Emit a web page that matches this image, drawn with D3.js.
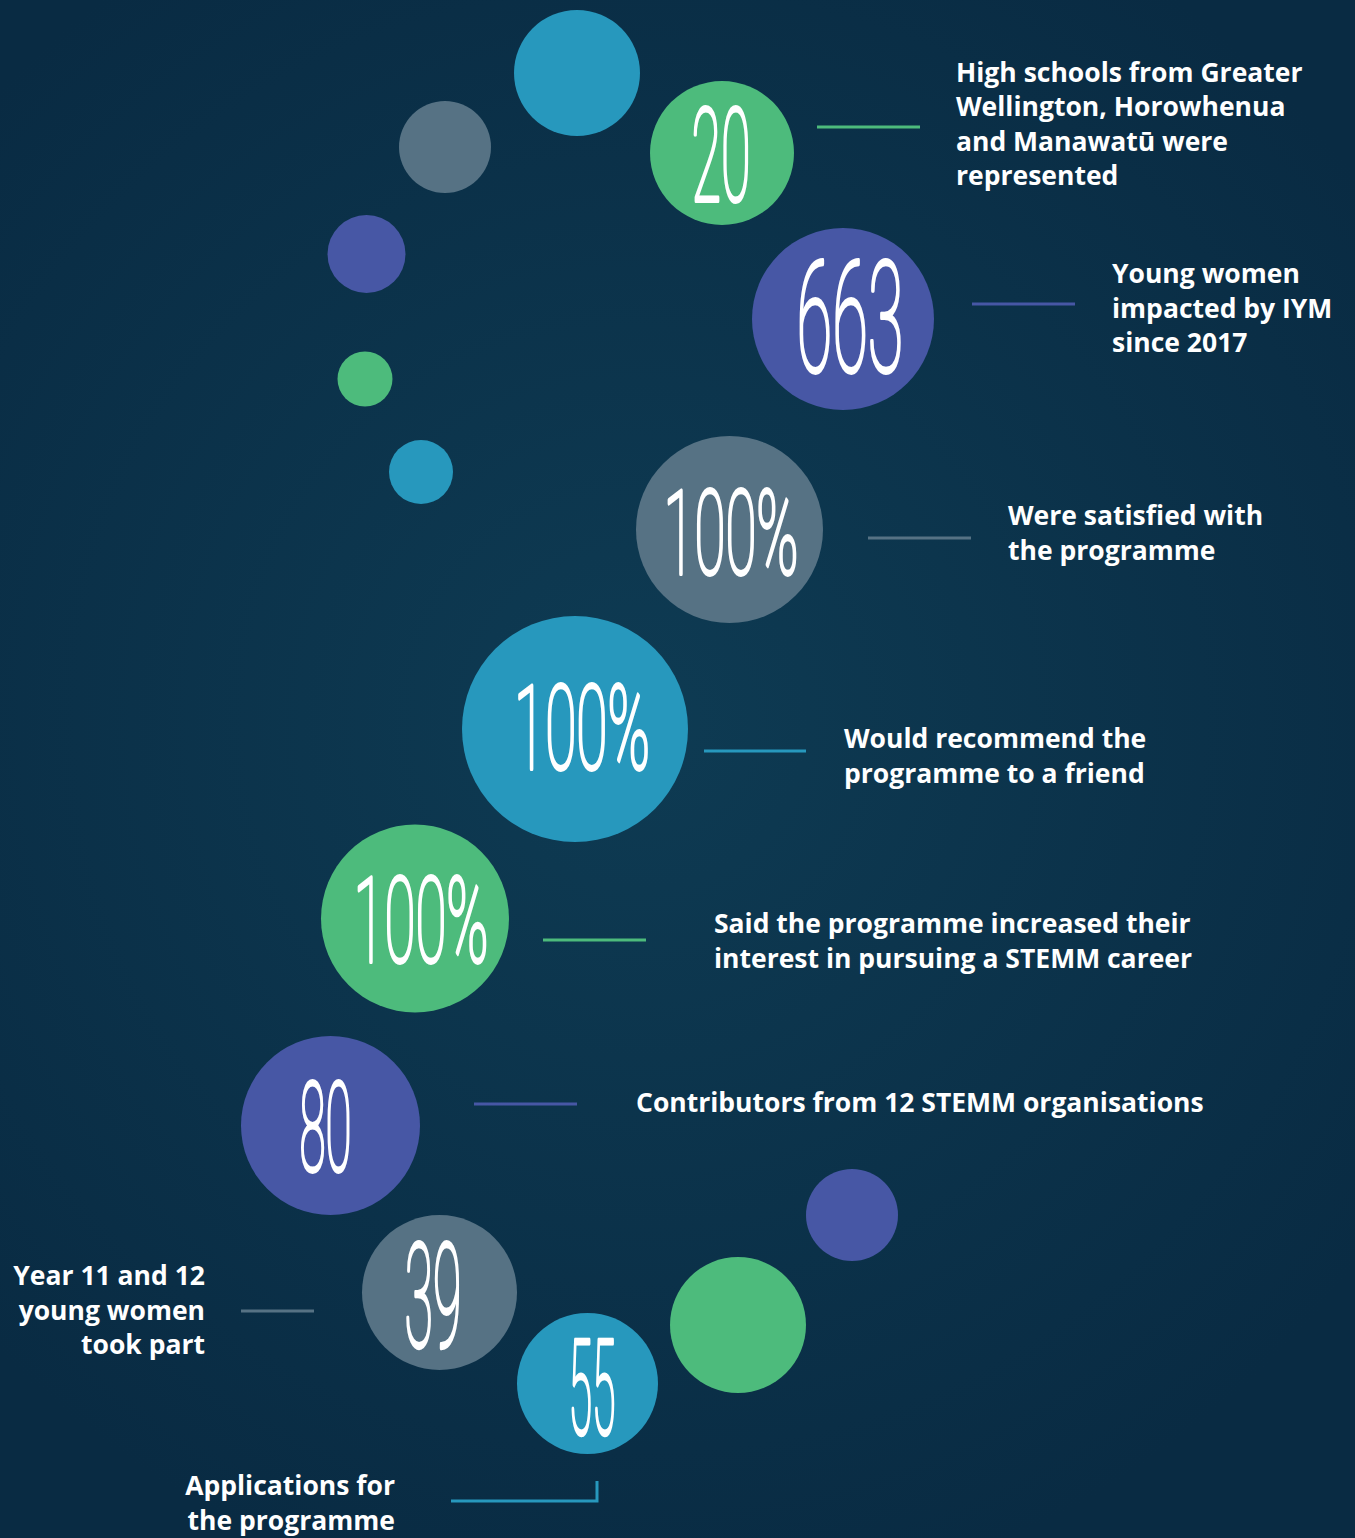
<!DOCTYPE html>
<html>
<head>
<meta charset="utf-8">
<script src="https://cdn.jsdelivr.net/npm/d3@7"></script>
<style>
  html, body { margin: 0; padding: 0; background: #0a2d45; }
  svg { display: block; }
  .label { font-family: "Open Sans", sans-serif; font-weight: 700; font-size: 26.5px; fill: #ffffff; }
  .num { font-family: Roboto, sans-serif; font-weight: 100; fill: #ffffff; stroke: #ffffff; }
</style>
</head>
<body>
<svg id="chart"></svg>

<script type="text/javascript">
// the stats, top to bottom
var values = ["20", "663", "100%", "100%", "100%", "80", "39", "55"];
var colourKeys = ["green", "indigo", "slate", "blue", "green", "indigo", "slate", "blue"];
var labels = [
  ["High schools from Greater", "Wellington, Horowhenua", "and Manawatū were", "represented"],
  ["Young women", "impacted by IYM", "since 2017"],
  ["Were satisfied with", "the programme"],
  ["Would recommend the", "programme to a friend"],
  ["Said the programme increased their", "interest in pursuing a STEMM career"],
  ["Contributors from 12 STEMM organisations"],
  ["Year 11 and 12", "young women", "took part"],
  ["Applications for", "the programme"]
];
// plain decorative dots
var dotColourKeys = ["blue", "slate", "indigo", "green", "blue", "indigo", "green"];

var palette = d3.scaleOrdinal()
  .domain(["green", "indigo", "slate", "blue"])
  .range(["#4dbb7c", "#4757a5", "#567284", "#2798bd"]);

// page layout (pixels)
var W = 1355, H = 1538;
var bubbles = [
  {cx: 722, cy: 153, r: 72},
  {cx: 843, cy: 319, r: 91},
  {cx: 729.5, cy: 529.5, r: 93.5},
  {cx: 575, cy: 729, r: 113},
  {cx: 415, cy: 918.5, r: 94},
  {cx: 330.5, cy: 1125.5, r: 89.5},
  {cx: 439.5, cy: 1292.5, r: 77.5},
  {cx: 587.5, cy: 1383.5, r: 70.5}
];
// digit box inside each bubble: centre x, top, height, width
var digitBox = [
  {x: 721, top: 110, h: 92, w: 62},
  {x: 850, top: 263, h: 110, w: 110},
  {x: 731, top: 492, h: 83, w: 138},
  {x: 582, top: 687, h: 83, w: 139},
  {x: 421, top: 878, h: 85, w: 138},
  {x: 325.5, top: 1083, h: 89, w: 55},
  {x: 433, top: 1245, h: 103, w: 60},
  {x: 592, top: 1342, h: 93, w: 50}
];
var connectors = [
  [[817, 127], [920, 127]],
  [[972, 304], [1075, 304]],
  [[868, 538], [971, 538]],
  [[704, 751], [806, 751]],
  [[543, 940], [646, 940]],
  [[474, 1104], [577, 1104]],
  [[241, 1311], [314, 1311]],
  [[451, 1501], [597, 1501], [597, 1481]]
];
var labelPos = [
  {x: 956, y: 81.5, anchor: "start"},
  {x: 1112, y: 283, anchor: "start"},
  {x: 1008, y: 525, anchor: "start"},
  {x: 844, y: 748, anchor: "start"},
  {x: 714, y: 933, anchor: "start"},
  {x: 636, y: 1112, anchor: "start"},
  {x: 205, y: 1285, anchor: "end"},
  {x: 395, y: 1495, anchor: "end"}
];
var dots = [
  {cx: 577, cy: 73, r: 63},
  {cx: 445, cy: 147, r: 46},
  {cx: 366.5, cy: 254, r: 39},
  {cx: 365, cy: 379, r: 27.5},
  {cx: 421, cy: 472, r: 32},
  {cx: 852, cy: 1215, r: 46},
  {cx: 738, cy: 1325, r: 68}
];

var svg = d3.select("#chart")
  .attr("width", W)
  .attr("height", H);

var defs = svg.append("defs");
var grad = defs.append("radialGradient")
  .attr("id", "bg")
  .attr("gradientUnits", "userSpaceOnUse")
  .attr("cx", 640).attr("cy", 720).attr("r", 900);
grad.append("stop").attr("offset", "0%").attr("stop-color", "#0e3b53");
grad.append("stop").attr("offset", "100%").attr("stop-color", "#092b43");

svg.append("rect")
  .attr("width", W)
  .attr("height", H)
  .attr("fill", "url(#bg)");

svg.append("g").selectAll("circle")
  .data(dots)
  .join("circle")
    .attr("cx", function (d) { return d.cx; })
    .attr("cy", function (d) { return d.cy; })
    .attr("r", function (d) { return d.r; })
    .attr("fill", function (d, i) { return palette(dotColourKeys[i]); });

var line = d3.line();

svg.append("g").selectAll("path")
  .data(connectors)
  .join("path")
    .attr("d", line)
    .attr("fill", "none")
    .attr("stroke", function (d, i) { return palette(colourKeys[i]); })
    .attr("stroke-width", 3);

svg.append("g").selectAll("circle")
  .data(values)
  .join("circle")
    .attr("cx", function (d, i) { return bubbles[i].cx; })
    .attr("cy", function (d, i) { return bubbles[i].cy; })
    .attr("r", function (d, i) { return bubbles[i].r; })
    .attr("fill", function (d, i) { return palette(colourKeys[i]); });

// big numbers: tall narrow digits, squeezed to fit the measured box
svg.append("g").selectAll("text")
  .data(values)
  .join("text")
    .attr("class", "num")
    .attr("text-anchor", "middle")
    .style("font-size", function (d, i) { return (digitBox[i].h / 0.711) + "px"; })
    .style("stroke-width", "3.2px")
    .style("stroke-linejoin", "round")
    .style("vector-effect", "non-scaling-stroke")
    .text(function (d) { return d; })
    .each(function (d, i) {
      var b = digitBox[i];
      var len = this.getComputedTextLength();
      var sx = (b.w - 3) / len;
      d3.select(this).attr("transform",
        "translate(" + b.x + "," + (b.top + b.h - 1) + ") scale(" + sx + ",1)");
    });

var labelGroups = svg.append("g").selectAll("text")
  .data(labels)
  .join("text")
    .attr("class", "label")
    .attr("text-anchor", function (d, i) { return labelPos[i].anchor; })
    .attr("x", function (d, i) { return labelPos[i].x; })
    .attr("y", function (d, i) { return labelPos[i].y; });

labelGroups.selectAll("tspan")
  .data(function (d, i) { return d.map(function (t) { return {t: t, i: i}; }); })
  .join("tspan")
    .attr("x", function (d) { return labelPos[d.i].x; })
    .attr("dy", function (d, j) { return j === 0 ? 0 : 34.6; })
    .text(function (d) { return d.t; });
</script>
</body>
</html>
